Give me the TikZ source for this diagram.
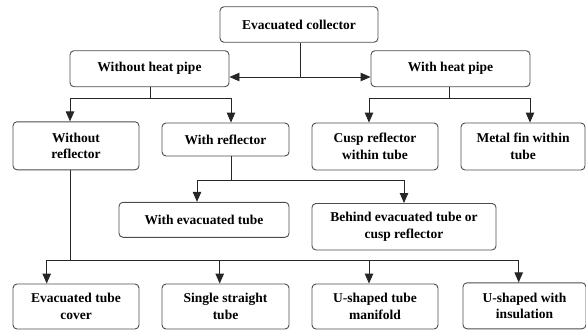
\documentclass[tikz,border=0pt]{standalone}
\usepackage{fontspec}
\setmainfont{Liberation Serif}
\usepackage{tikz}
\usetikzlibrary{arrows.meta}

\begin{document}
\begin{tikzpicture}[x=1pt,y=-1pt,
	box/.style={draw=black!70,line width=0.9pt,rounded corners=4pt,align=center,
		inner sep=0pt,font=\fontsize{13.5}{16.5}\selectfont\bfseries},
	arr/.style={-{Triangle[length=10pt,width=8.5pt]}},
	line/.style={draw=black!85,line width=0.9pt}]
	\useasboundingbox (0,0) rectangle (586,330);
	\node[box,minimum width=158pt,minimum height=35.5pt] (coll) at (299,24.5) {Evacuated collector};
	\node[box,minimum width=159pt,minimum height=36pt] (wohp) at (149.5,68.7) {Without heat pipe};
	\node[box,minimum width=159pt,minimum height=36pt] (whp) at (450.5,68.7) {With heat pipe};
	\node[box,minimum width=126pt,minimum height=48pt] (wor) at (76,145.8) {Without\\reflector};
	\node[box,minimum width=127pt,minimum height=33pt] (wr) at (225.5,139.5) {With reflector};
	\node[box,minimum width=126pt,minimum height=47pt] (cusp) at (375,146.5) {Cusp reflector\\within tube};
	\node[box,minimum width=124pt,minimum height=47pt] (fin) at (523,146.5) {Metal fin within\\tube};
	\node[box,minimum width=170pt,minimum height=35pt] (wet) at (204,219.8) {With evacuated tube};
	\node[box,minimum width=184pt,minimum height=46.5pt] (beh) at (404,226.7) {Behind evacuated tube or\\cusp reflector};
	\node[box,minimum width=126pt,minimum height=45pt] (cover) at (76,306.5) {Evacuated tube\\cover};
	\node[box,minimum width=127pt,minimum height=45pt] (single) at (225.5,306.5) {Single straight\\tube};
	\node[box,minimum width=126pt,minimum height=45pt] (manif) at (375,306.5) {U-shaped tube\\manifold};
	\node[box,minimum width=123pt,minimum height=46pt] (insul) at (524.5,305.8) {U-shaped with\\insulation};
	\coordinate (j1) at (300,77);
	\coordinate (j2) at (150.5,98.5);
	\coordinate (j3) at (449.5,98.5);
	\coordinate (j4) at (231,180.7);
	\coordinate (j5) at (70,260.7);
	\draw[line] (coll.south -| j1) -- (j1);
	\draw[line,arr] (j1) -- (j1 -| wohp.east);
	\draw[line,arr] (j1) -- (j1 -| whp.west);
	\draw[line] (wohp.south -| j2) -- (j2);
	\draw[line,arr] (j2) -| ([xshift=-6pt]wor.north);
	\draw[line,arr] (j2) -| ([xshift=5.5pt]wr.north);
	\draw[line] (whp.south -| j3) -- (j3);
	\draw[line,arr] (j3) -| ([xshift=-6pt]cusp.north);
	\draw[line,arr] (j3) -| ([xshift=7pt]fin.north);
	\draw[line] (wr.south -| j4) -- (j4);
	\draw[line,arr] (j4) -| ([xshift=-7pt]wet.north);
	\draw[line,arr] (j4) -| (beh.north);
	\draw[line] (wor.south -| j5) -- (j5);
	\draw[line,arr] (j5) -| ([xshift=-29.3pt]cover.north);
	\draw[line,arr] (j5) -| ([xshift=-5.8pt]single.north);
	\draw[line,arr] (j5) -| ([xshift=-6pt]manif.north);
	\draw[line,arr] (j5) -| ([xshift=-5.8pt]insul.north);
\end{tikzpicture}
\end{document}
